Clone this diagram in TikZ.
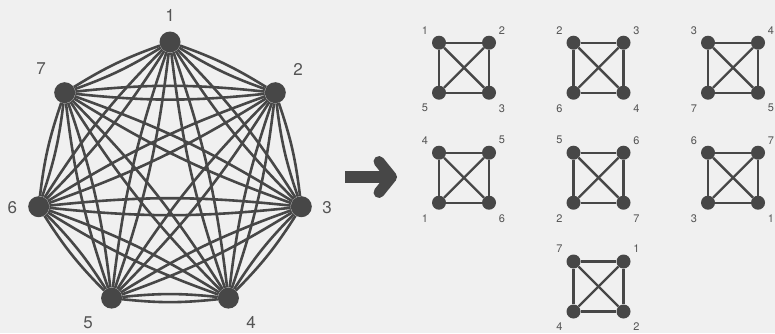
\documentclass[tikz,border=0pt]{standalone}
\usepackage{fontspec}
\setmainfont{TeX Gyre Heros}
\definecolor{bg}{HTML}{F0F0F0}
\definecolor{ink}{HTML}{474747}
\definecolor{lab}{HTML}{555555}
\begin{document}
\begin{tikzpicture}[x=1pt,y=-1pt,
  bv/.style={circle,fill=ink,inner sep=0pt,minimum size=21pt},
  sv/.style={circle,fill=ink,inner sep=0pt,minimum size=14pt},
  bl/.style={text=lab,font=\fontsize{17}{17}\selectfont,inner sep=0pt},
  sl/.style={text=lab,font=\fontsize{11}{11}\selectfont,inner sep=0pt},
  bedge/.style={draw=ink,line width=2.6pt},
  sedge/.style={draw=ink,line width=2.4pt}]
\fill[bg] (0,0) rectangle (775,333);
\useasboundingbox (0,0) rectangle (775,333);
% big graph vertices
\node[bv] (v1) at (170,42) {};
\node[bv] (v2) at (275.3,92.7) {};
\node[bv] (v3) at (301.3,206.7) {};
\node[bv] (v4) at (228.4,298.1) {};
\node[bv] (v5) at (111.6,298.1) {};
\node[bv] (v6) at (38.7,206.7) {};
\node[bv] (v7) at (64.7,92.7) {};
\foreach \i in {1,...,6}{
  \pgfmathtruncatemacro\s{\i+1}
  \foreach \j in {\s,...,7}{
    \draw[bedge] (v\i) to[bend left=6] (v\j);
    \draw[bedge] (v\i) to[bend right=6] (v\j);
  }
}
\node[bl] (l1) at (170,15) {1};
\node[bl] (l2) at (298,69) {2};
\node[bl] (l3) at (327,208) {3};
\node[bl] (l4) at (251,322.5) {4};
\node[bl] (l5) at (88,322.5) {5};
\node[bl] (l6) at (12.3,208) {6};
\node[bl] (l7) at (41,69) {7};
% arrow
\draw[ink,line width=12pt] (345,177) -- (388,177);
\draw[ink,line width=11pt,line cap=round,line join=round] (379,161.5) -- (391.5,177) -- (379,192.5);
% K4 decomposition
\foreach \cx/\cy/\a/\b/\c/\d/\n in {
  439/42.7/1/2/5/3/1, 573.5/42.7/2/3/6/4/2, 708/42.7/3/4/7/5/3,
  439/152.7/4/5/1/6/4, 573.5/152.7/5/6/2/7/5, 708/152.7/6/7/3/1/6,
  573.5/261.5/7/1/4/2/7}{
  \node[sv] (q\n a) at (\cx,\cy) {};
  \node[sv] (q\n b) at (\cx+50,\cy) {};
  \node[sv] (q\n c) at (\cx,\cy+50) {};
  \node[sv] (q\n d) at (\cx+50,\cy+50) {};
  \draw[sedge] (q\n a) -- (q\n b) -- (q\n d) -- (q\n c) -- (q\n a);
  \draw[sedge] (q\n a) -- (q\n d);
  \draw[sedge] (q\n b) -- (q\n c);
  \node[sl] (t\n a) at (\cx-14,\cy-12.5) {\a};
  \node[sl] (t\n b) at (\cx+63,\cy-12.5) {\b};
  \node[sl] (t\n c) at (\cx-14,\cy+65.5) {\c};
  \node[sl] (t\n d) at (\cx+63,\cy+65.5) {\d};
}
\end{tikzpicture}
\end{document}
